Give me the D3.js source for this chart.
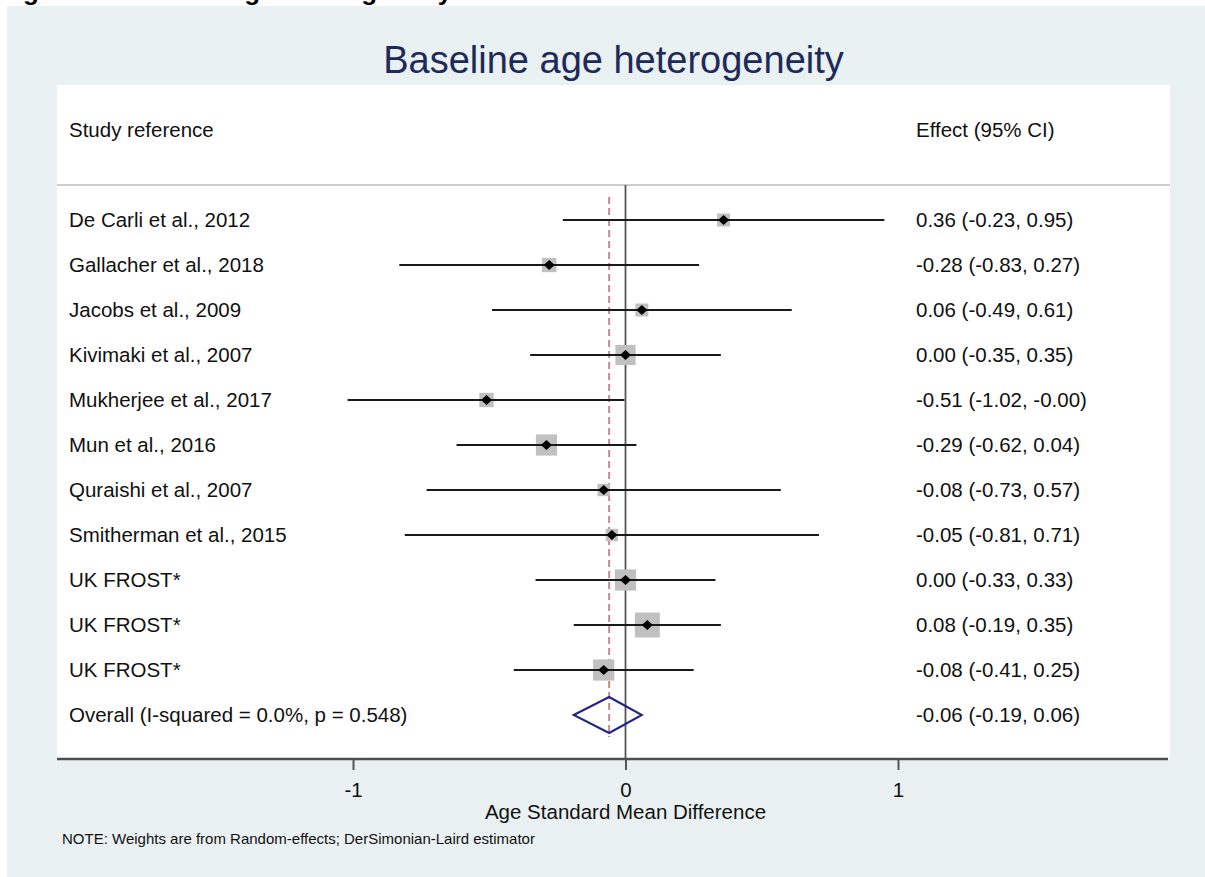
<!DOCTYPE html>
<html>
<head>
<meta charset="utf-8">
<script src="https://cdn.jsdelivr.net/npm/d3@7"></script>
<style>
  body { margin: 0; background: #fff; }
  svg text { font-family: "Liberation Sans", Arial, sans-serif; }
</style>
</head>
<body>
<svg id="chart" width="1205" height="877"></svg>
<script>
// study rows
var studies = ["De Carli et al., 2012", "Gallacher et al., 2018", "Jacobs et al., 2009",
    "Kivimaki et al., 2007", "Mukherjee et al., 2017", "Mun et al., 2016",
    "Quraishi et al., 2007", "Smitherman et al., 2015", "UK FROST*", "UK FROST*", "UK FROST*"]
var est = [0.36, -0.28, 0.06, 0.00, -0.51, -0.29, -0.08, -0.05, 0.00, 0.08, -0.08]
var lo  = [-0.23, -0.83, -0.49, -0.35, -1.02, -0.62, -0.73, -0.81, -0.33, -0.19, -0.41]
var hi  = [0.95, 0.27, 0.61, 0.35, -0.004, 0.04, 0.57, 0.71, 0.33, 0.35, 0.25]
// % weights
var weights = [4.9, 6.0, 4.9, 11.9, 6.0, 13.1, 4.5, 4.4, 13.1, 18.2, 13.1]

var overall = {label: "Overall (I-squared = 0.0%, p = 0.548)", est: -0.06, lo: -0.19, hi: 0.06}
var xTicks = [-1, 0, 1]
var xMin = -1.022   // left edge of the plotted range, CI beyond gets an arrow

var svg = d3.select("#chart")

var x = d3.scaleLinear().domain([-1, 1]).range([353, 898])
var y = d3.scaleLinear().domain([0, studies.length]).range([220, 715])
var size = d3.scaleSqrt().domain([0, d3.max(weights)]).range([0, 25])

var FS = "20.5px"

function fmt(v){ return v.toFixed(2) }
function ciText(e, l, h){ return fmt(e) + " (" + fmt(l) + ", " + fmt(h) + ")" }

// cut caption from the page above
svg.append("text").attr("x", 0).attr("y", -0.5)
    .style("font-size", "26px").style("font-weight", "bold").attr("fill", "#000")
    .text("Figure 2. Baseline age heterogeneity")

// background regions
svg.append("rect").attr("x", 7).attr("y", 6).attr("width", 1198).attr("height", 871).attr("fill", "#eaf1f3")
svg.append("rect").attr("x", 57).attr("y", 85).attr("width", 1113).attr("height", 674).attr("fill", "#fff")

svg.append("text").attr("x", 613.5).attr("y", 73).attr("text-anchor", "middle")
    .style("font-size", "38px").attr("fill", "#1e2a5a")
    .text("Baseline age heterogeneity")

// header
svg.append("text").attr("x", 69).attr("y", 137).style("font-size", FS).attr("fill", "#111").text("Study reference")
svg.append("text").attr("x", 916).attr("y", 137).style("font-size", FS).attr("fill", "#111").text("Effect (95% CI)")
svg.append("line").attr("x1", 57).attr("x2", 1170).attr("y1", 185).attr("y2", 185)
    .attr("stroke", "#cfcfcf").attr("stroke-width", 2)

// reference lines
svg.append("line").attr("x1", x(0)).attr("x2", x(0)).attr("y1", 185).attr("y2", 759)
    .attr("stroke", "#555").attr("stroke-width", 1.8)
svg.append("line").attr("x1", x(overall.est)).attr("x2", x(overall.est)).attr("y1", 197).attr("y2", 737)
    .attr("stroke", "#c28c8c").attr("stroke-width", 2).attr("stroke-dasharray", "7,4")

// studies
var rows = svg.append("g").selectAll("g").data(studies).join("g")

rows.append("rect")
    .attr("x", (d, i) => x(est[i]) - size(weights[i]) / 2)
    .attr("y", (d, i) => y(i) - size(weights[i]) / 2)
    .attr("width", (d, i) => size(weights[i]))
    .attr("height", (d, i) => size(weights[i]))
    .attr("fill", "#c0c0c0")

rows.append("line")
    .attr("x1", (d, i) => x(Math.max(lo[i], xMin)))
    .attr("x2", (d, i) => x(hi[i]))
    .attr("y1", (d, i) => y(i)).attr("y2", (d, i) => y(i))
    .attr("stroke", "#1a1a1a").attr("stroke-width", 2.2)

rows.filter((d, i) => lo[i] <= xMin).append("path")
    .attr("d", (d, i) => {
        var ax = x(xMin), ay = y(i)
        return "M" + (ax + 13) + "," + (ay - 7) + "L" + ax + "," + ay + "L" + (ax + 13) + "," + (ay + 7)
    })
    .attr("fill", "none").attr("stroke", "#1a1a1a").attr("stroke-width", 2)

rows.append("path")
    .attr("d", (d, i) => {
        var cx = x(est[i]), cy = y(i)
        return "M" + (cx - 5.5) + "," + cy + "L" + cx + "," + (cy - 5) + "L" + (cx + 5.5) + "," + cy + "L" + cx + "," + (cy + 5) + "Z"
    })
    .attr("fill", "#000")

rows.append("text").attr("x", 69).attr("y", (d, i) => y(i) + 7)
    .style("font-size", FS).attr("fill", "#111").text(d => d)
rows.append("text").attr("x", 916).attr("y", (d, i) => y(i) + 7)
    .style("font-size", FS).attr("fill", "#111").text((d, i) => ciText(est[i], lo[i], hi[i]))

// overall
var oy = y(studies.length)
svg.append("path")
    .attr("d", "M" + x(overall.lo) + "," + oy + "L" + x(overall.est) + "," + (oy - 18) +
        "L" + x(overall.hi) + "," + oy + "L" + x(overall.est) + "," + (oy + 18) + "Z")
    .attr("fill", "none").attr("stroke", "#23238a").attr("stroke-width", 2)
svg.append("text").attr("x", 69).attr("y", oy + 7).style("font-size", FS).attr("fill", "#111").text(overall.label)
svg.append("text").attr("x", 916).attr("y", oy + 7).style("font-size", FS).attr("fill", "#111")
    .text(ciText(overall.est, overall.lo, overall.hi))

// x axis
var axis = svg.append("g").attr("transform", "translate(0,759)")
    .call(d3.axisBottom(x).tickValues(xTicks).tickFormat(d3.format("d")).tickSize(11).tickPadding(12))
axis.select(".domain").remove()
axis.selectAll(".tick line").attr("stroke", "#555").attr("stroke-width", 2)
axis.selectAll(".tick text").style("font-size", FS).attr("fill", "#111")
    .text(d => d < 0 ? "-" + Math.abs(d) : d)
svg.append("line").attr("x1", 57).attr("x2", 1168).attr("y1", 759).attr("y2", 759)
    .attr("stroke", "#4d4d4d").attr("stroke-width", 2.5)

svg.append("text").attr("x", x(0)).attr("y", 819).attr("text-anchor", "middle")
    .style("font-size", FS).attr("fill", "#111").text("Age Standard Mean Difference")
svg.append("text").attr("x", 62).attr("y", 844)
    .style("font-size", "15px").attr("fill", "#111")
    .text("NOTE: Weights are from Random-effects; DerSimonian-Laird estimator")
</script>
</body>
</html>
